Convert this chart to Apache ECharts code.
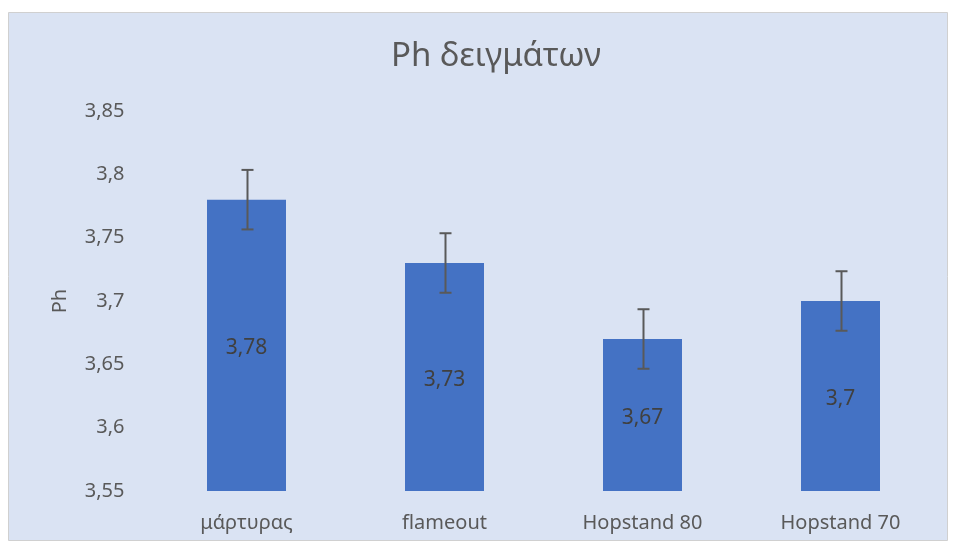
<!DOCTYPE html>
<html><head><meta charset="utf-8">
<script src="https://cdn.jsdelivr.net/npm/echarts@6/dist/echarts.min.js"></script>
<style>html,body{margin:0;padding:0;background:#fff}#c{width:956px;height:548px}</style>
</head><body><div id="c"></div>
<script>
const categories = ['μάρτυρας', 'flameout', 'Hopstand 80', 'Hopstand 70'];
const phValues = [3.78, 3.73, 3.67, 3.70];
const phErrors = [0.0235, 0.0235, 0.0235, 0.0235];
const yTicks = [3.55, 3.6, 3.65, 3.7, 3.75, 3.8, 3.85];

const fmt = v => String(+v.toFixed(2)).replace('.', ',');
const FONT = '"Noto Sans", "Open Sans", sans-serif';

const chart = echarts.init(document.getElementById('c'));
chart.setOption({
  animation: false,
  backgroundColor: '#fff',
  graphic: [{
    type: 'rect', z: -10, silent: true,
    shape: { x: 8.5, y: 12.5, width: 939, height: 528 },
    style: { fill: '#dae3f3', stroke: '#d0d0d0', lineWidth: 1 }
  }],
  title: {
    text: 'Ph δειγμάτων', left: 386, top: 35,
    textStyle: { fontFamily: FONT, fontSize: 33, fontWeight: 'normal', color: '#595959' }
  },
  grid: { left: 147.5, right: 16.5, top: 111, bottom: 57 },
  xAxis: {
    type: 'category', data: categories,
    axisLine: { show: false }, axisTick: { show: false },
    axisLabel: { fontFamily: FONT, fontSize: 20, color: '#595959', margin: 22 }
  },
  yAxis: {
    type: 'value', min: yTicks[0], max: yTicks[yTicks.length - 1], interval: 0.05,
    name: 'Ph', nameLocation: 'middle', nameGap: 77, nameRotate: 90,
    nameTextStyle: { fontFamily: FONT, fontSize: 20, color: '#595959' },
    splitLine: { show: false }, axisLine: { show: false }, axisTick: { show: false },
    axisLabel: { fontFamily: FONT, fontSize: 20, color: '#595959', margin: 23, formatter: fmt }
  },
  series: [{
    type: 'bar', data: phValues, barWidth: 79,
    itemStyle: { color: '#4472c4' },
    label: {
      show: true, position: 'inside', offset: [0, 3], formatter: p => fmt(p.value),
      fontFamily: FONT, fontSize: 21, color: '#404040'
    }
  }, {
    type: 'custom', z: 10,
    data: phValues.map((v, i) => [i, v - phErrors[i], v + phErrors[i]]),
    renderItem: (params, api) => {
      const lo = api.coord([api.value(0), api.value(1)]);
      const hi = api.coord([api.value(0), api.value(2)]);
      const x = Math.round(lo[0]) + 0.5, w = 6;
      const st = { stroke: '#595959', lineWidth: 2 };
      return { type: 'group', children: [
        { type: 'line', shape: { x1: x, y1: lo[1], x2: x, y2: hi[1] }, style: st },
        { type: 'line', shape: { x1: x - w, y1: lo[1], x2: x + w, y2: lo[1] }, style: st },
        { type: 'line', shape: { x1: x - w, y1: hi[1], x2: x + w, y2: hi[1] }, style: st }
      ]};
    }
  }]
});
</script></body></html>
